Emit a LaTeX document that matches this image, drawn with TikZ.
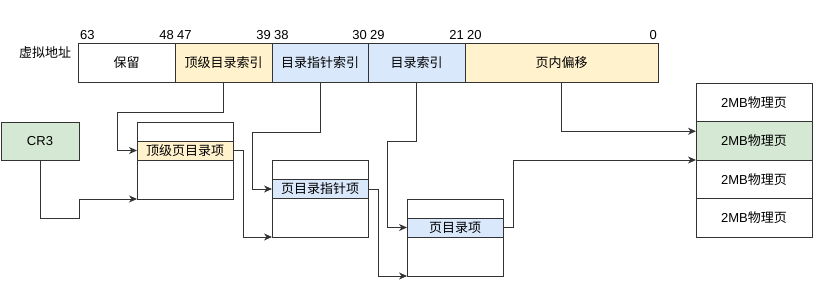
\documentclass[tikz,border=0pt]{standalone}
\usepackage{fontspec}
\setmainfont{Liberation Sans}
\newfontfamily\cjk{Noto Sans CJK SC}
\usetikzlibrary{arrows.meta}
\definecolor{lc}{HTML}{333333}
\definecolor{yel}{HTML}{FFF2CC}
\definecolor{blu}{HTML}{DAE8FC}
\definecolor{grn}{HTML}{D5E8D4}
\begin{document}
\begin{tikzpicture}[x=1pt,y=-1pt,
  txt/.style={font=\fontsize{13pt}{15pt}\selectfont},
  cell/.style={draw=lc, line width=0.9pt, inner sep=0pt, outer sep=0pt, anchor=north west,
    minimum height=39pt, font=\fontsize{13pt}{15pt}\cjk},
  tbl/.style={draw=lc, line width=0.9pt, inner sep=0pt, outer sep=0pt, anchor=north west,
    minimum width=96pt, minimum height=77pt},
  entry/.style={draw=lc, line width=0.9pt, inner sep=0pt, outer sep=0pt, anchor=north west,
    minimum width=96pt, minimum height=19pt, font=\fontsize{13pt}{15pt}\cjk},
  page/.style={draw=lc, line width=0.9pt, inner sep=0pt, outer sep=0pt, anchor=north west,
    minimum width=116pt, minimum height=38.5pt, font=\fontsize{13pt}{15pt}\selectfont},
  conn/.style={draw=lc, line width=0.9pt, -{Stealth[length=8pt,width=7pt,inset=2.5pt]}},
  bit/.style={txt, inner sep=0pt}
]
\useasboundingbox (0,0) rectangle (829,290);

% virtual address label
\node[txt, font=\fontsize{13pt}{15pt}\cjk] (va) at (45,53) {虚拟地址};

% bit bar
\node[cell, minimum width=97pt] (res) at (78,43) {保留};
\node[cell, minimum width=97pt, fill=yel] (idx1) at (175,43) {顶级目录索引};
\node[cell, minimum width=96pt, fill=blu] (idx2) at (272,43) {目录指针索引};
\node[cell, minimum width=97pt, fill=blu] (idx3) at (368,43) {目录索引};
\node[cell, minimum width=193pt, fill=yel] (off) at (465,43) {页内偏移};

% bit numbers
\node[bit, anchor=base west] (b63) at (80,39.5) {63};
\node[bit, anchor=base east] (b48) at (174,39.5) {48};
\node[bit, anchor=base west] (b47) at (177,39.5) {47};
\node[bit, anchor=base east] (b39) at (271,39.5) {39};
\node[bit, anchor=base west] (b38) at (274,39.5) {38};
\node[bit, anchor=base east] (b30) at (367,39.5) {30};
\node[bit, anchor=base west] (b29) at (370,39.5) {29};
\node[bit, anchor=base east] (b21) at (464,39.5) {21};
\node[bit, anchor=base west] (b20) at (467,39.5) {20};
\node[bit, anchor=base east] (b0) at (657,39.5) {0};

% CR3
\node[cell, minimum width=78pt, minimum height=38pt, fill=grn, font=\fontsize{13pt}{15pt}\selectfont] (cr3) at (1,122) {CR3};

% tables
\node[tbl] (t1) at (137,122) {};
\node[entry, fill=yel] (t1e) at (137,141) {顶级页目录项};
\node[tbl] (t2) at (272,160) {};
\node[entry, fill=blu] (t2e) at (272,179.5) {页目录指针项};
\node[tbl] (t3) at (407,199) {};
\node[entry, fill=blu] (t3e) at (407,218) {页目录项};

% pages
\node[page] (p1) at (696,83) {2MB{\cjk 物理页}};
\node[page, fill=grn] (p2) at (696,121.5) {2MB{\cjk 物理页}};
\node[page] (p3) at (696,160) {2MB{\cjk 物理页}};
\node[page] (p4) at (696,198.5) {2MB{\cjk 物理页}};

% connectors
\draw[conn] (cr3.south) |- (79,218) |- (t1.south west);
\draw[conn] (idx1.south) |- (117,112) |- (t1e.west);
\draw[conn] (t1e.east) -- ++(10,0) |- (t2.south west);
\draw[conn] (idx2.south) |- (252,132) |- (t2e.west);
\draw[conn] (t2e.east) -- ++(10,0) |- (t3.south west);
\draw[conn] (idx3.south) |- (387,141) |- (t3e.west);
\draw[conn] (t3e.east) -- ++(10,0) |- (p2.south west);
\draw[conn] (off.south) |- ([yshift=9.5pt]p2.west);
\end{tikzpicture}
\end{document}
